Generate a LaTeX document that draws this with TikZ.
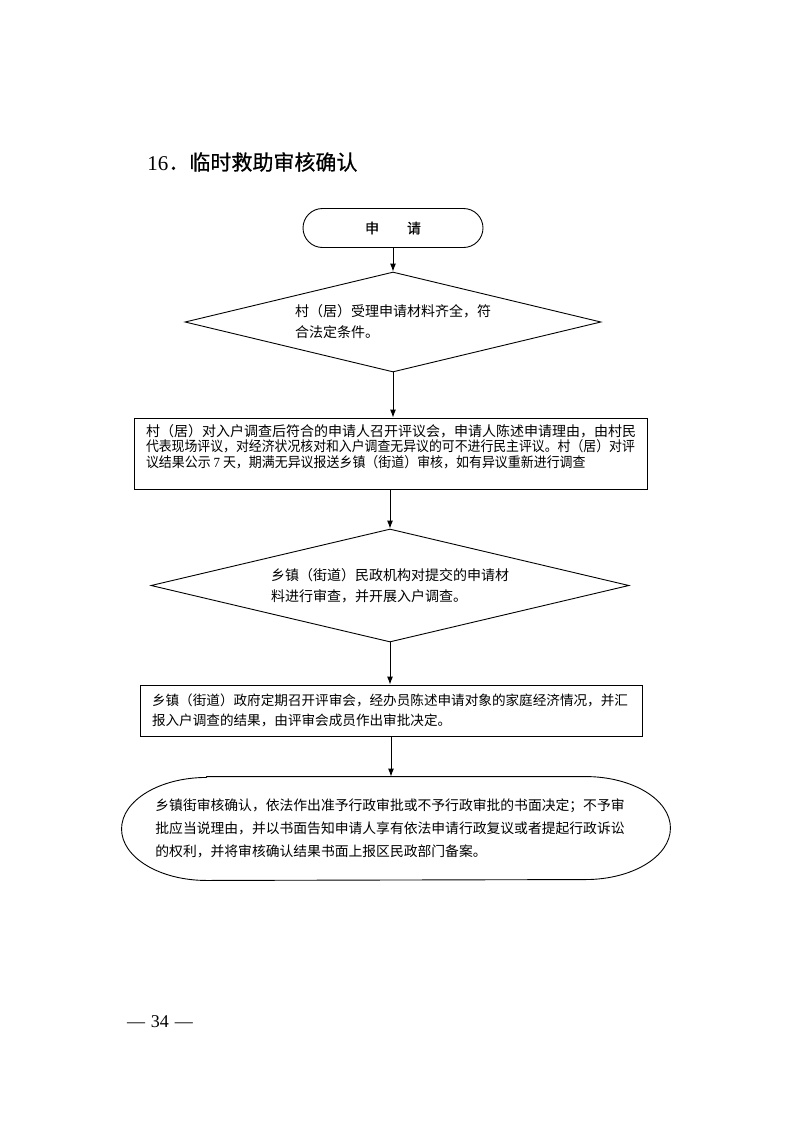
\documentclass[tikz,border=0pt]{standalone}
\usepackage{graphicx}
\usepackage{fontspec}
\setmainfont{Liberation Serif}
\newfontfamily\cjk{Noto Sans CJK SC}
\newfontfamily\cjkm{Noto Sans CJK SC}[FakeBold=0.6]
\usetikzlibrary{arrows.meta,shapes.geometric}
\begin{document}
\begin{tikzpicture}[x=1pt,y=-1pt,
  line width=0.9pt,
  arr/.style={-{Latex[length=8pt,width=6pt]}},
  txt/.style={font=\cjk\fontsize{14}{21}\selectfont},
  decision/.style={draw, diamond, inner sep=0pt, txt, align=left},
  stepbox/.style={draw, rectangle, inner sep=0pt, txt},
]
\useasboundingbox (0,0) rectangle (793,1122);

\node[anchor=west, inner sep=0pt, font=\fontsize{21}{21}\selectfont] (title) at (147,162) {16{\cjkm ．临时救助审核确认}};

\node[draw, rectangle, rounded corners=19.5pt, minimum width=180, minimum height=39, inner sep=0pt, font=\cjkm\fontsize{14}{14}\selectfont] (s) at (393,228) {申　　请};

\node[decision, aspect=4.16, minimum width=416, minimum height=100] (d1) at (393,322)
  {村（居）受理申请材料齐全，符\\合法定条件。};

\node[stepbox, minimum width=513, minimum height=71] (b1) at (390.5,453.5)
  {\parbox[c][58pt][t]{489pt}{\fontsize{14}{15.5}\selectfont
   村（居）对入户调查后符合的申请人召开评议会，申请人陈述申请理由，由村民\\
   \scalebox{0.919}[1]{代表现场评议，对经济状况核对和入户调查无异议的可不进行民主评议。村（居）对评}\\
   \scalebox{0.925}[1]{议结果公示 {\rmfamily 7} 天，期满无异议报送乡镇（街道）审核，如有异议重新进行调查}}};

\node[decision, aspect=4.23, minimum width=478, minimum height=113] (d2) at (390,585.5)
  {乡镇（街道）民政机构对提交的申请材\\料进行审查，并开展入户调查。};

\node[stepbox, minimum width=502, minimum height=51] (b2) at (391,710.5)
  {\parbox{478pt}{\fontsize{13.6}{20}\selectfont
   乡镇（街道）政府定期召开评审会，经办员陈述申请对象的家庭经济情况，并汇\\
   报入户调查的结果，由评审会成员作出审批决定。}};

\node[inner sep=0pt, minimum width=548, minimum height=103, align=left,
      font=\cjk\fontsize{13.8}{23}\selectfont] (e) at (396,828.5)
  {\hspace*{-12pt}乡镇街审核确认，依法作出准予行政审批或不予行政审批的书面决定；不予审\\
   \hspace*{-12pt}批应当说理由，并以书面告知申请人享有依法申请行政复议或者提起行政诉讼\\
   \hspace*{-12pt}的权利，并将审核确认结果书面上报区民政部门备案。};
\draw[line join=round] ([xshift=85pt]e.north west) -- ([xshift=-85pt]e.north east)
  arc[start angle=90, end angle=-90, x radius=85pt, y radius=51.5pt]
  -- ([xshift=85pt]e.south west)
  arc[start angle=270, end angle=90, x radius=85pt, y radius=51.5pt] -- cycle;

\node[inner sep=0pt, font=\fontsize{18}{18}\selectfont] (pg) at (160,1022) {—\hspace{6pt}34\hspace{6pt}—};

\draw[arr] (s.south) -- (s.south |- d1.north);
\draw[arr] (d1.south) -- (d1.south |- b1.north);
\draw[arr] (d2.north |- b1.south) -- (d2.north);
\draw[arr] (d2.south) -- (d2.south |- b2.north);
\draw[arr] (b2.south) -- (b2.south |- e.north);
\end{tikzpicture}
\end{document}
